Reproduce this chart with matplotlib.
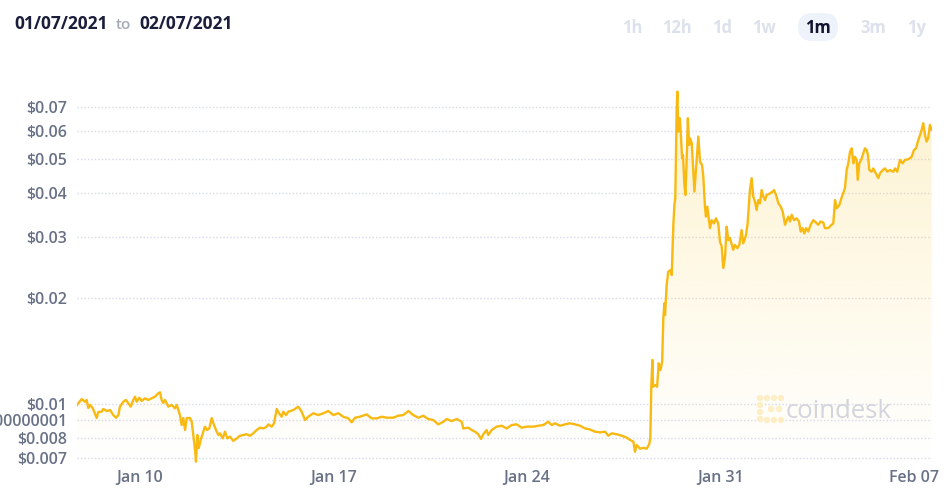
import matplotlib
matplotlib.use("Agg")
import matplotlib.pyplot as plt
import matplotlib.dates as mdates
from matplotlib.ticker import FixedLocator, FixedFormatter, NullLocator
from matplotlib.patches import FancyBboxPatch, Circle
from matplotlib.transforms import IdentityTransform
import numpy as np
import pandas as pd

# ---------------- data ----------------
start_time = "2021-01-07 17:15"
hours = [
    0.0, 4.1, 6.9, 8.4, 9.8, 11.3, 13.6, 17.1, 18.5, 21.4,
    22.8, 25.8, 28.7, 31.5, 33.9, 35.9, 37.3, 40.2, 42.5, 44.5,
    46.6, 48.9, 50.4, 51.8, 54.1, 56.2, 59.0, 61.9, 64.9, 67.7,
    70.6, 72.1, 73.5, 74.9, 76.4, 79.3, 82.2, 85.1, 86.6, 89.4,
    90.9, 92.3, 93.8, 95.3, 98.1, 99.6, 101.0, 102.5, 103.3, 104.5,
    105.7, 107.4, 109.7, 111.1, 112.9, 114.9, 117.0, 118.4, 120.7, 122.7,
    124.2, 126.5, 128.5, 130.5, 132.8, 135.7, 138.7, 141.5, 144.4, 147.3,
    150.2, 153.1, 156.0, 158.9, 161.8, 164.7, 166.1, 169.1, 171.1, 173.4,
    175.4, 177.7, 179.1, 181.5, 183.5, 187.8, 192.2, 195.1, 198.0, 200.8,
    205.2, 209.5, 213.9, 218.2, 222.6, 226.9, 231.2, 235.6, 238.5, 241.4,
    245.7, 251.5, 255.9, 260.2, 264.6, 268.9, 274.6, 279.0, 283.3, 287.7,
    292.0, 296.4, 300.7, 305.0, 309.4, 313.7, 318.1, 321.0, 325.3, 329.7,
    334.0, 335.4, 339.8, 342.7, 345.6, 348.4, 350.8, 352.8, 355.7, 357.1,
    360.1, 364.4, 368.8, 373.1, 377.4, 381.8, 386.1, 390.5, 396.2, 400.6,
    404.9, 409.2, 412.2, 415.0, 419.4, 423.7, 428.1, 432.4, 436.8, 441.1,
    445.4, 449.8, 454.1, 458.5, 461.3, 464.3, 468.6, 473.0, 477.3, 480.2,
    483.1, 484.5, 486.0, 488.9, 491.7, 494.7, 496.9, 497.8, 498.7, 499.6,
    500.2, 502.2, 503.7, 505.1, 506.6, 508.1, 509.1, 510.0, 510.6, 512.0,
    513.4, 515.5, 516.4, 517.8, 518.7, 519.5, 520.7, 521.3, 522.1, 523.4,
    524.2, 525.4, 526.2, 527.4, 528.3, 529.5, 530.4, 531.5, 532.4, 533.8,
    535.2, 536.1, 537.3, 538.4, 539.5, 541.0, 542.7, 543.8, 545.3, 546.1,
    547.3, 549.6, 551.1, 553.1, 554.8, 556.8, 558.3, 559.8, 561.2, 562.7,
    564.1, 565.5, 567.0, 569.8, 571.3, 573.3, 575.1, 577.1, 578.5, 580.9,
    582.3, 584.3, 585.8, 587.2, 588.7, 590.1, 591.5, 593.0, 594.5, 595.9,
    597.4, 598.8, 601.7, 604.1, 605.2, 607.0, 609.0, 611.1, 612.8, 614.8,
    616.3, 617.7, 619.1, 620.6, 622.6, 624.9, 626.9, 628.4, 630.1, 631.5,
    633.0, 635.0, 637.0, 639.3, 641.6, 643.6, 645.7, 648.0, 649.4, 652.3,
    655.2, 656.7, 658.2, 659.6, 661.9, 664.0, 665.4, 666.8, 668.3, 669.7,
    671.2, 672.7, 674.1, 675.5, 677.0, 677.9, 679.3, 681.4, 682.7, 684.2,
    685.7, 686.8, 688.0, 690.0, 691.4, 692.9, 695.8, 697.2, 699.6, 701.6,
    703.6, 705.9, 708.8, 710.3, 712.2, 714.6, 716.9, 718.9, 721.8, 724.7,
    726.7, 728.5, 730.5, 732.0, 733.4, 734.8, 736.3, 737.7, 739.1, 740.6, 742.1,
]
price = [
    0.00994, 0.01033, 0.01015, 0.01027, 0.00974, 0.00994, 0.00974, 0.00912, 0.00949, 0.00951,
    0.00968, 0.00955, 0.00961, 0.00930, 0.00914, 0.00930, 0.00983, 0.01015, 0.01027, 0.01005,
    0.00983, 0.01027, 0.01049, 0.01015, 0.01042, 0.01020, 0.01038, 0.01027, 0.01038, 0.01049,
    0.01073, 0.01080, 0.01027, 0.01007, 0.01027, 0.00983, 0.00994, 0.00972, 0.00994, 0.00930,
    0.00871, 0.00912, 0.00843, 0.00912, 0.00912, 0.00890, 0.00816, 0.00740, 0.00685, 0.00816,
    0.00749, 0.00790, 0.00834, 0.00862, 0.00843, 0.00852, 0.00912, 0.00881, 0.00843, 0.00816,
    0.00825, 0.00798, 0.00834, 0.00798, 0.00807, 0.00785, 0.00798, 0.00812, 0.00816, 0.00820,
    0.00812, 0.00825, 0.00843, 0.00856, 0.00852, 0.00862, 0.00875, 0.00862, 0.00881, 0.00968,
    0.00941, 0.00920, 0.00951, 0.00930, 0.00951, 0.00961, 0.00983, 0.00951, 0.00900, 0.00920,
    0.00941, 0.00930, 0.00941, 0.00955, 0.00930, 0.00941, 0.00920, 0.00910, 0.00887, 0.00914,
    0.00920, 0.00934, 0.00910, 0.00910, 0.00920, 0.00914, 0.00914, 0.00926, 0.00930, 0.00955,
    0.00930, 0.00914, 0.00926, 0.00906, 0.00900, 0.00875, 0.00890, 0.00906, 0.00894, 0.00906,
    0.00890, 0.00852, 0.00856, 0.00843, 0.00834, 0.00820, 0.00795, 0.00820, 0.00843, 0.00816,
    0.00843, 0.00862, 0.00867, 0.00852, 0.00871, 0.00875, 0.00856, 0.00862, 0.00862, 0.00867,
    0.00871, 0.00890, 0.00871, 0.00881, 0.00867, 0.00875, 0.00881, 0.00875, 0.00867, 0.00852,
    0.00846, 0.00834, 0.00830, 0.00834, 0.00812, 0.00825, 0.00820, 0.00812, 0.00802, 0.00790,
    0.00781, 0.00731, 0.00764, 0.00746, 0.00750, 0.00746, 0.00769, 0.00798, 0.01133, 0.01335,
    0.01120, 0.01133, 0.01120, 0.01306, 0.01250, 0.01320, 0.01755, 0.01936, 0.01793, 0.02183,
    0.02382, 0.02409, 0.02331, 0.03236, 0.0369, 0.03855, 0.0696, 0.0776, 0.0597, 0.0652,
    0.0597, 0.0501, 0.0512, 0.0421, 0.0394, 0.0512, 0.0652, 0.0547, 0.0571, 0.0553,
    0.0459, 0.0403, 0.0459, 0.0512, 0.0578, 0.0490, 0.0480, 0.0447, 0.0364, 0.0342,
    0.0365, 0.0317, 0.0334, 0.0327, 0.0338, 0.0327, 0.0290, 0.0281, 0.0244, 0.0263,
    0.0320, 0.0293, 0.0297, 0.0275, 0.0284, 0.0278, 0.0284, 0.0313, 0.0287, 0.0303,
    0.0327, 0.0407, 0.0440, 0.0390, 0.0377, 0.0357, 0.0381, 0.0373, 0.0407, 0.0390,
    0.0381, 0.0394, 0.0398, 0.0403, 0.0407, 0.0394, 0.0373, 0.0365, 0.0353, 0.0324,
    0.0334, 0.0342, 0.0331, 0.0346, 0.0334, 0.0338, 0.0331, 0.0310, 0.0317, 0.0306,
    0.0317, 0.0310, 0.0324, 0.0334, 0.0329, 0.0324, 0.0331, 0.0329, 0.0317, 0.0317,
    0.0324, 0.0327, 0.0381, 0.0361, 0.0369, 0.0388, 0.0400, 0.0412, 0.0464, 0.0485,
    0.0523, 0.0535, 0.0485, 0.0506, 0.0496, 0.0435, 0.0485, 0.0501, 0.0518, 0.0535,
    0.0529, 0.0512, 0.0464, 0.0459, 0.0469, 0.0459, 0.0440, 0.0454, 0.0464, 0.0469,
    0.0459, 0.0464, 0.0459, 0.0469, 0.0459, 0.0496, 0.0485, 0.0496, 0.0498, 0.0506,
    0.0529, 0.0535, 0.0565, 0.0584, 0.0604, 0.0631, 0.0584, 0.0559, 0.0573, 0.0624, 0.0604,
]
y_ticks = [0.007, 0.008, 0.009, 0.01, 0.02, 0.03, 0.04, 0.05, 0.06, 0.07]
y_labels = ["$0.007", "$0.008", "$0.009000000001", "$0.01", "$0.02", "$0.03",
            "$0.04", "$0.05", "$0.06", "$0.07"]
x_ticks = ["2021-01-10", "2021-01-17", "2021-01-24", "2021-01-31", "2021-02-07"]
x_labels = ["Jan 10", "Jan 17", "Jan 24", "Jan 31", "Feb 07"]
y_range = (0.006658, 0.08106)
window_hours = 742.4
date_from, date_to = "01/07/2021", "02/07/2021"
ranges = ["1h", "12h", "1d", "1w", "1m", "3m", "1y"]
active_range = "1m"

# ---------------- style ----------------
plt.rcParams["font.family"] = ["Open Sans", "DejaVu Sans"]
LINE = "#f8b912"
TICK = "#687186"
GRID = "#d6daea"
W, H = 953, 497

fig = plt.figure(figsize=(W / 100, H / 100), dpi=100)
fig.patch.set_facecolor("white")
ax = fig.add_axes([77 / W, 1 - 466 / H, 855 / W, 381 / H])

t0 = pd.Timestamp(start_time)
t = t0 + pd.to_timedelta(hours, unit="h")
tn = mdates.date2num(t.to_pydatetime())

ax.set_yscale("log")
ax.plot(tn, price, color=LINE, lw=1.7, solid_joinstyle="round", zorder=4)
poly = ax.fill_between(tn, price, y_range[0], color="none", lw=0)

grad = np.zeros((256, 1, 4))
grad[..., 0] = 0.98
grad[..., 1] = 0.80
grad[..., 2] = 0.25
grad[..., 3] = np.linspace(0.25, 0.0, 256)[:, None]
im = ax.imshow(grad, extent=(0, 1, 0, 1), transform=ax.transAxes,
               aspect="auto", interpolation="bilinear", zorder=2)
im.set_clip_path(poly.get_paths()[0], ax.transData)

ax.set_xlim(tn[0], mdates.date2num((t0 + pd.Timedelta(hours=window_hours)).to_pydatetime()))
ax.set_ylim(*y_range)

ax.yaxis.set_major_locator(FixedLocator(y_ticks))
ax.yaxis.set_major_formatter(FixedFormatter(y_labels))
ax.yaxis.set_minor_locator(NullLocator())
xt = [mdates.date2num(pd.Timestamp(d).to_pydatetime()) for d in x_ticks]
ax.xaxis.set_major_locator(FixedLocator(xt))
ax.xaxis.set_major_formatter(FixedFormatter(x_labels))
ax.xaxis.set_minor_locator(NullLocator())

ax.grid(axis="y", color=GRID, linestyle=(0, (1, 1.5)), lw=1.0)
ax.set_axisbelow(True)
for s in ax.spines.values():
    s.set_visible(False)
ax.tick_params(axis="y", length=0, pad=7.0, labelsize=11.5, labelcolor=TICK)
ax.tick_params(axis="x", length=0, pad=3.0, labelsize=11.5, labelcolor=TICK)
for lab in ax.get_xticklabels() + ax.get_yticklabels():
    lab.set_fontweight("semibold")

# ---------------- header ----------------
def px(x, y):
    return x / W, 1 - y / H

fig.text(*px(14, 24), date_from, fontsize=12.5, fontweight="bold", color="#1b1e3a",
         va="center", ha="left")
fig.text(*px(116, 25), "to", fontsize=11, fontweight="semibold", color="#a6aab8",
         va="center", ha="left")
fig.text(*px(139, 24), date_to, fontsize=12.5, fontweight="bold", color="#1b1e3a",
         va="center", ha="left")

btn_x = [632, 677, 722, 764, 818, 873, 917]
for lab, bx in zip(ranges, btn_x):
    if lab == active_range:
        pill = FancyBboxPatch((bx - 20, H - 41), 40, 28,
                              boxstyle="round,pad=0,rounding_size=14",
                              transform=IdentityTransform(), fc="#eef2fa", ec="none")
        fig.patches.append(pill)
        col = "#11142d"
    else:
        col = "#dde1ec"
    fig.text(*px(bx, 28), lab, fontsize=12, fontweight="bold", color=col,
             va="center", ha="center", zorder=5)

# ---------------- watermark ----------------
dots = [(760, 398), (767, 398), (774, 398), (781, 398),
        (760, 405), (760, 412), (760, 419),
        (767, 420), (774, 420), (781, 420), (771, 409), (779, 409)]
for (dx, dy) in dots:
    fig.patches.append(Circle((dx, H - dy), 3.2, transform=IdentityTransform(),
                              fc="#fdeec6", ec="none"))
fig.text(*px(786, 418), "coindesk", fontsize=18.5, color="#d2d5de",
         va="baseline", ha="left")

fig.savefig("out.png", dpi=100)
